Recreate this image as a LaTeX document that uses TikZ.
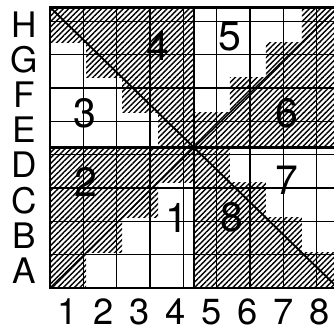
\documentclass[tikz,border=0pt]{standalone}
\usepackage{fontspec}
\setmainfont{TeX Gyre Heros}
\usetikzlibrary{patterns.meta}
\tikzset{
  hatch/.style={pattern={Lines[angle=45,distance=3.3pt,line width=1.2pt]}},
  gridline/.style={line width=1pt},
  heavy/.style={line width=2.4pt},
  rowlabel/.style={font=\fontsize{30}{30}\selectfont, inner sep=0pt},
  collabel/.style={font=\fontsize{31}{31}\selectfont, inner sep=0pt},
  zone/.style={font=\fontsize{35}{35}\selectfont, inner sep=0pt}
}
\begin{document}
\begin{tikzpicture}[x=1.08cm, y=1.053cm]
    \useasboundingbox (-1.389,-1.168) rectangle (7.889,8.205);
    \begin{scope}
    \clip (-1.389,-1.168) rectangle (7.889,8.205);
    % hatched squares, row by row (A = 1 ... H = 8)
    \foreach \r/\cols in {1/{1,5,6,7,8}, 2/{1,2,5,6,7}, 3/{1,2,3,5,6}, 4/{1,2,3,4,5},
                         5/{4,5,6,7,8}, 6/{3,4,6,7,8}, 7/{2,3,4,7,8}, 8/{1,2,3,4,8}}
      \foreach \c in \cols
        \fill[hatch] (\c-1,\r-1) rectangle (\c,\r);
    % grid
    \draw[gridline] (0,0) grid (8,8);
    \draw[heavy] (4,0) -- (4,8);
    \draw[heavy] (0,4) -- (8,4);
    \draw[heavy] (0,0) rectangle (8,8);
    % diagonals
    \draw[line width=1.6pt] (0,8) -- (8,0);
    \draw[line width=1.2pt] (0,0) -- (8,8);
    \end{scope}
    % row letters
    \foreach \l [count=\i] in {A,B,C,D,E,F,G,H}
      \node[rowlabel] (row-\l) at (-0.72,\i-0.5) {\l};
    % column numbers
    \foreach \i in {1,...,8}
      \node[collabel] (col-\i) at (\i-0.5,-0.68) {\i};
    % zone numbers
    \node[zone] (n1) at (3.53,1.99) {1};
    \node[zone] (n2) at (1.0,3.02) {2};
    \node[zone] (n3) at (0.97,4.99) {3};
    \node[zone] (n4) at (3.0,6.89) {4};
    \node[zone] (n5) at (5.0,7.15) {5};
    \node[zone] (n6) at (6.58,4.99) {6};
    \node[zone] (n7) at (6.58,3.08) {7};
    \node[zone] (n8) at (5.06,2.02) {8};
\end{tikzpicture}
\end{document}
